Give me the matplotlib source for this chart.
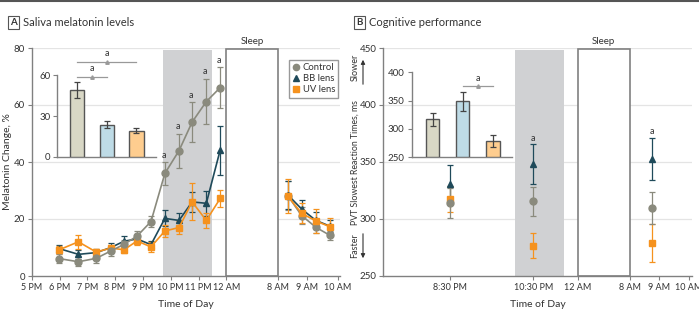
import matplotlib
matplotlib.use("Agg")
import matplotlib.pyplot as plt
from matplotlib.lines import Line2D
from matplotlib.patches import Rectangle, FancyArrowPatch

plt.rcParams['font.family'] = ['Lato', 'DejaVu Sans']

# ---------------- data ----------------
# Panel A: x positions on the axis (hours after 5 PM; 12 AM-8 AM compressed)
a_tick_pos = [0, 1, 2, 3, 4, 5, 6, 7, 8.86, 9.9, 11.0]
a_tick_lab = ["5 PM", "6 PM", "7 PM", "8 PM", "9 PM", "10 PM", "11 PM", "12 AM", "8 AM", "9 AM", "10 AM"]
a_x_eve = [0.99, 1.68, 2.32, 2.85, 3.32, 3.79, 4.29, 4.79, 5.30, 5.77, 6.28, 6.78]
a_x_morn = [9.21, 9.71, 10.22, 10.72]

control_eve = [6.1, 5.0, 6.2, 8.8, 11.1, 14.0, 19.1, 36.0, 44.0, 54.0, 61.2, 66.1]
control_eve_err = [1.5, 1.5, 1.5, 1.8, 1.5, 1.8, 1.8, 4.0, 6.0, 7.0, 8.0, 7.3]
control_morn = [28.2, 21.2, 17.1, 14.3]
control_morn_err = [5.0, 3.0, 2.0, 1.5]
bb_eve = [9.6, 7.6, 8.2, 10.0, 12.2, 13.0, 11.0, 20.2, 19.5, 26.0, 25.5, 44.2]
bb_eve_err = [1.2, 1.5, 1.2, 1.5, 1.8, 1.5, 1.2, 2.8, 2.5, 3.5, 4.5, 8.6]
bb_morn = [28.5, 23.5, 19.5, 17.5]
bb_morn_err = [5.0, 3.0, 3.0, 2.0]
uv_eve = [9.2, 12.0, 8.4, 9.8, 9.2, 12.3, 10.2, 15.8, 17.0, 26.0, 19.5, 27.2]
uv_eve_err = [1.5, 2.5, 1.0, 1.2, 1.2, 1.5, 1.8, 2.0, 2.2, 6.5, 2.5, 3.0]
uv_morn = [28.0, 22.0, 19.3, 17.3]
uv_morn_err = [6.0, 3.5, 4.3, 3.0]
a_sig_idx = [7, 8, 9, 10, 11]   # control points marked "a"

inset_a_vals = [49.2, 23.4, 19.0]
inset_a_err = [6.0, 2.6, 1.8]

# Panel B
b_tick_pos = [2.4, 5.4, 7.0, 8.86, 9.93, 11.0]
b_tick_lab = ["8:30 PM", "10:30 PM", "12 AM", "8 AM", "9 AM", "10 AM"]
b_x = [2.4, 5.4, 9.65]
b_control = [314.0, 315.5, 310.0]
b_control_err = [13.0, 12.5, 14.0]
b_bb = [330.5, 348.0, 352.5]
b_bb_err = [17.0, 17.5, 18.5]
b_uv = [317.5, 276.5, 279.0]
b_uv_err = [11.5, 11.0, 17.0]
b_sig_idx = [1, 2]   # BB points marked "a"

inset_b_vals = [317.0, 349.0, 279.0]
inset_b_err = [12.0, 17.0, 11.0]

shade_span = (4.73, 6.49)
sleep_span = (7.0, 8.86)

# ---------------- style ----------------
C_CTRL = "#8a8a7d"
C_BB = "#1f4a5a"
C_UV = "#f5921e"
BAR_COLS = ["#d8d7c5", "#bedbe6", "#fecd8f"]
AXC = "#808080"
GRID = "#e4e4e4"
TXT = "#333333"

W, H = 699, 314
fig = plt.figure(figsize=(W / 100, H / 100), dpi=100)


def rect(l, r, b, t):
    return [l / W, 1 - b / H, (r - l) / W, (b - t) / H]


def style_axes(ax):
    for s in ["top", "right"]:
        ax.spines[s].set_visible(False)
    for s in ["left", "bottom"]:
        ax.spines[s].set_color(AXC)
        ax.spines[s].set_linewidth(1.0)
    ax.tick_params(colors=AXC, labelcolor=TXT, labelsize=7, length=3, width=0.8, pad=2)


# top rule
fig.add_artist(Line2D([0, 1], [1 - 1 / H, 1 - 1 / H], color="#555555", lw=1.5))


def header(xpx, letter, title):
    fig.text(xpx / W, 1 - 22.5 / H, letter, fontsize=7, fontweight="bold", color=TXT,
             ha="left", va="center",
             bbox=dict(boxstyle="square,pad=0.25", fc="white", ec="#555555", lw=0.8))
    fig.text((xpx + 13) / W, 1 - 22.5 / H, title, fontsize=8, color=TXT, ha="left", va="center")


header(10, "A", "Saliva melatonin levels")
header(356, "B", "Cognitive performance")


def main_series(ax, x, y, e, col, marker, ms, line=True):
    ax.errorbar(x, y, yerr=e, fmt=marker, color=col, ecolor=col, ms=ms, mec=col,
                capsize=2.5, elinewidth=0.9, capthick=0.9,
                ls="-" if line else "none", lw=1.2, zorder=4)


def draw_regions(ax, ylo, yhi):
    ax.axvspan(shade_span[0], shade_span[1], ymin=0, ymax=0.99, color="#d0d1d3", lw=0, zorder=1)
    ax.add_patch(Rectangle((sleep_span[0], ylo), sleep_span[1] - sleep_span[0], (yhi - ylo) * 0.995,
                           fc="white", ec=AXC, lw=1.2, zorder=2))
    ax.text((sleep_span[0] + sleep_span[1]) / 2, ylo + (yhi - ylo) * 1.01, "Sleep", fontsize=7,
            color=TXT, ha="center", va="bottom")


# ---------------- Panel A ----------------
axA = fig.add_axes(rect(31.7, 340.3, 276, 48))
style_axes(axA)
axA.set_xlim(0, 11.1)
axA.set_ylim(0, 80)
axA.set_yticks([0, 20, 40, 60, 80])
for g in [20, 40, 60, 80]:
    axA.axhline(g, color=GRID, lw=0.9, zorder=0)
draw_regions(axA, 0, 80)
axA.set_xticks(a_tick_pos)
axA.set_xticklabels(a_tick_lab, fontsize=6.5)

for xs, ys, es, col, mk in [
    (a_x_eve, bb_eve, bb_eve_err, C_BB, "^"),
    (a_x_eve, uv_eve, uv_eve_err, C_UV, "s"),
    (a_x_morn, control_morn, control_morn_err, C_CTRL, "o"),
    (a_x_morn, bb_morn, bb_morn_err, C_BB, "^"),
    (a_x_morn, uv_morn, uv_morn_err, C_UV, "s"),
    (a_x_eve, control_eve, control_eve_err, C_CTRL, "o"),
]:
    main_series(axA, xs, ys, es, col, mk, 5)

for i in a_sig_idx:
    axA.text(a_x_eve[i] - 0.05, control_eve[i] + control_eve_err[i] + 0.8, "a",
             fontsize=6.5, color=TXT, ha="center", va="bottom", zorder=6)

leg_handles = [
    Line2D([], [], marker="o", ls="none", color=C_CTRL, ms=4.5),
    Line2D([], [], marker="^", ls="none", color=C_BB, ms=4.5),
    Line2D([], [], marker="s", ls="none", color=C_UV, ms=4.5),
]
leg = axA.legend(leg_handles, ["Control", "BB lens", "UV lens"], loc="upper right",
                 bbox_to_anchor=((338.3 - 31.7) / 308.6, (276 - 60) / 228), fontsize=6.8,
                 frameon=True, fancybox=False, edgecolor=AXC, handlelength=0.7,
                 handletextpad=0.35, labelspacing=0.22, borderpad=0.35, borderaxespad=0)
leg.get_frame().set_linewidth(1.0)
leg.set_zorder(10)
for t in leg.get_texts():
    t.set_color(TXT)

fig.text(7.5 / W, 1 - 162 / H, "Melatonin Change, %", rotation=90, fontsize=7.5, color=TXT,
         ha="center", va="center")
axA.set_xlabel("Time of Day", fontsize=7.5, color=TXT, labelpad=6)

# inset A
inA = fig.add_axes(rect(57.3, 155.7, 156.7, 75.3))
inA.patch.set_alpha(0)
style_axes(inA)
inA.set_xlim(-0.67, 2.65)
inA.set_ylim(0, 60)
inA.set_yticks([0, 30, 60])
inA.set_xticks([])
inA.bar(range(3), inset_a_vals, width=0.48, color=BAR_COLS, edgecolor="#555555", lw=1.0, zorder=3)
inA.errorbar(range(3), inset_a_vals, yerr=inset_a_err, fmt="none", ecolor="#444444",
             capsize=2.5, elinewidth=0.9, capthick=0.9, zorder=4)


def sig_line(ax, x0, x1, y, dy):
    ax.plot([x0, x1], [y, y], color="#999999", lw=0.9, clip_on=False, zorder=5)
    ax.plot([(x0 + x1) / 2], [y], marker="^", ms=2.5, color="#999999", clip_on=False, zorder=5)
    ax.text((x0 + x1) / 2, y + dy, "a", fontsize=6.5, color=TXT, ha="center", va="bottom",
            clip_on=False)


sig_line(inA, 0, 1, 59.0, 2.5)
sig_line(inA, 0, 2, 70.0, 2.5)

# ---------------- Panel B ----------------
axB = fig.add_axes(rect(383.3, 691.9, 276, 48))
style_axes(axB)
axB.set_xlim(0, 11.1)
axB.set_ylim(250, 450)
axB.set_yticks([250, 300, 350, 400, 450])
for g in [300, 350, 400, 450]:
    axB.axhline(g, color=GRID, lw=0.9, zorder=0)
draw_regions(axB, 250, 450)
axB.set_xticks(b_tick_pos)
axB.set_xticklabels(b_tick_lab, fontsize=6.5)

main_series(axB, b_x, b_bb, b_bb_err, C_BB, "^", 5, line=False)
main_series(axB, b_x, b_uv, b_uv_err, C_UV, "s", 5, line=False)
main_series(axB, b_x, b_control, b_control_err, C_CTRL, "o", 5, line=False)
for i in b_sig_idx:
    axB.text(b_x[i], b_bb[i] + b_bb_err[i] + 1.5, "a", fontsize=6.5, color=TXT,
             ha="center", va="bottom", zorder=6)

fig.text(355 / W, 1 - 163 / H, "PVT Slowest Reaction Times, ms", rotation=90, fontsize=6.3,
         color=TXT, ha="center", va="center")
axB.set_xlabel("Time of Day", fontsize=7.5, color=TXT, labelpad=6)

# Slower / Faster
fig.text(355 / W, 1 - 67 / H, "Slower", rotation=90, fontsize=6.5, color=TXT, ha="center", va="center")
fig.text(355 / W, 1 - 246 / H, "Faster", rotation=90, fontsize=6.5, color=TXT, ha="center", va="center")
fig.add_artist(FancyArrowPatch((363 / W, 1 - 87 / H), (363 / W, 1 - 57 / H),
                               transform=fig.transFigure, arrowstyle="-|>",
                               mutation_scale=6, color=TXT, lw=0.8))
fig.add_artist(FancyArrowPatch((363 / W, 1 - 231 / H), (363 / W, 1 - 261 / H),
                               transform=fig.transFigure, arrowstyle="-|>",
                               mutation_scale=6, color=TXT, lw=0.8))

# inset B
inB = fig.add_axes(rect(411.5, 511.7, 157.3, 72.3))
inB.patch.set_alpha(0)
style_axes(inB)
inB.set_xlim(-0.70, 2.62)
inB.set_ylim(250, 400)
inB.set_yticks([250, 300, 350, 400])
inB.set_xticks([])
inB.bar(range(3), [v - 250 for v in inset_b_vals], bottom=250, width=0.44, color=BAR_COLS,
        edgecolor="#555555", lw=1.0, zorder=3)
inB.errorbar(range(3), inset_b_vals, yerr=inset_b_err, fmt="none", ecolor="#444444",
             capsize=2.5, elinewidth=0.9, capthick=0.9, zorder=4)
sig_line(inB, 1, 2, 375.5, 5)

fig.savefig("out.png", dpi=100)
